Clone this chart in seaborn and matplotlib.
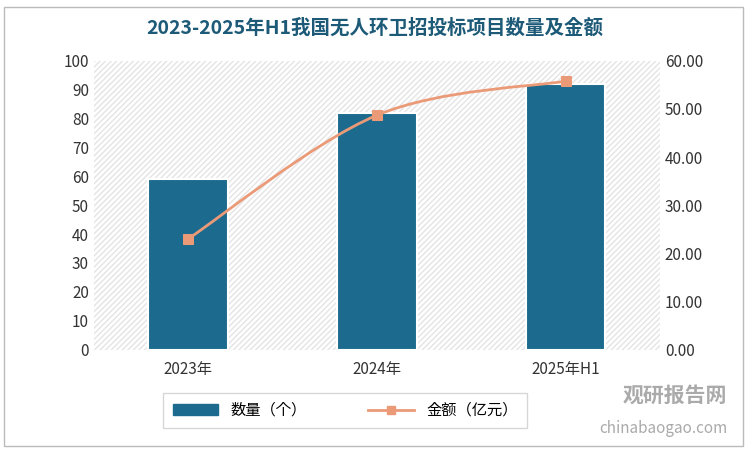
import matplotlib
matplotlib.use("Agg")
import matplotlib.pyplot as plt
import seaborn as sns
import pandas as pd
from matplotlib.patches import Rectangle, Patch, PathPatch
from matplotlib.lines import Line2D
from matplotlib.path import Path
from matplotlib import font_manager

names = {f.name for f in font_manager.fontManager.ttflist}
cjk = [n for n in ["Noto Sans CJK SC", "Noto Sans CJK JP", "Noto Sans CJK TC", "Noto Sans CJK KR"] if n in names]
plt.rcParams["font.family"] = "sans-serif"
plt.rcParams["font.sans-serif"] = cjk + ["DejaVu Sans"]

categories = ["2023年", "2024年", "2025年H1"]
counts = [59, 82, 92]
amounts = [23.0, 48.7, 55.8]
df = pd.DataFrame({"cat": categories, "count": counts, "amount": amounts})

fig = plt.figure(figsize=(7.5, 4.51), dpi=100)
fig.patches.append(Rectangle((0.005, 0.01), 0.985, 0.975, transform=fig.transFigure,
                             fill=False, edgecolor="#bbbbbb", lw=1))
ax = fig.add_axes([0.125, 0.225, 0.755, 0.64])
ax.add_patch(Rectangle((0, 0), 1, 1, transform=ax.transAxes, facecolor="white",
                       hatch="//////", edgecolor="#e4e4e4", lw=0, zorder=0))
sns.barplot(data=df, x="cat", y="count", ax=ax, color="#1c6b8e", width=0.42,
            edgecolor="white", linewidth=1.5, saturation=1, zorder=2)
ax.set_ylim(0, 100)
ax.set_yticks(range(0, 101, 10))
ax.set_xlabel(""); ax.set_ylabel("")
for s in ax.spines.values():
    s.set_visible(False)
ax.tick_params(length=0, labelsize=11, colors="#333333")
ax.tick_params(axis="x", pad=8)

ax2 = ax.twinx()
x = [0, 1, 2]
sns.lineplot(x=x, y=amounts, ax=ax2, color="#eb9a78", lw=0, marker="s",
             markersize=7, markeredgecolor="#eb9a78", zorder=4)
# smooth curve (Catmull-Rom -> Bezier) through the data points
pts = list(zip(x, amounts))
verts = [pts[0]]; codes = [Path.MOVETO]
for i in range(len(pts) - 1):
    p0 = pts[i - 1] if i > 0 else pts[i]
    p1, p2 = pts[i], pts[i + 1]
    p3 = pts[i + 2] if i + 2 < len(pts) else p2
    c1 = (p1[0] + (p2[0] - p0[0]) / 6, p1[1] + (p2[1] - p0[1]) / 6)
    c2 = (p2[0] - (p3[0] - p1[0]) / 6, p2[1] - (p3[1] - p1[1]) / 6)
    verts += [c1, c2, p2]; codes += [Path.CURVE4] * 3
ax2.add_patch(PathPatch(Path(verts, codes), fill=False, edgecolor="#eb9a78", lw=2, zorder=3))
ax2.set_ylim(0, 60)
ax2.set_yticks(range(0, 61, 10))
ax2.set_yticklabels([f"{v:.2f}" for v in range(0, 61, 10)])
for s in ax2.spines.values():
    s.set_visible(False)
ax2.tick_params(length=0, labelsize=11, colors="#333333")
ax.set_xlim(-0.5, 2.5)

fig.text(0.5, 0.925, "2023-2025年H1我国无人环卫招投标项目数量及金额", ha="center",
         fontsize=14, fontweight="bold", color="#1d5a78")
h = [Patch(color="#1c6b8e", label="数量（个）"),
     Line2D([], [], color="#eb9a78", lw=2, marker="s", label="金额（亿元）")]
leg = fig.legend(handles=h, loc="center", bbox_to_anchor=(0.46, 0.09), ncol=2,
                 frameon=True, fancybox=False, edgecolor="#cccccc", fontsize=11,
                 columnspacing=4, borderpad=0.6, handlelength=3)
leg.get_frame().set_linewidth(1)
fig.text(0.97, 0.11, "观研报告网", ha="right", fontsize=15, color="#aaaaaa", fontweight="bold")
fig.text(0.97, 0.04, "chinabaogao.com", ha="right", fontsize=11, color="#aaaaaa")
fig.savefig("out.png", dpi=100)
